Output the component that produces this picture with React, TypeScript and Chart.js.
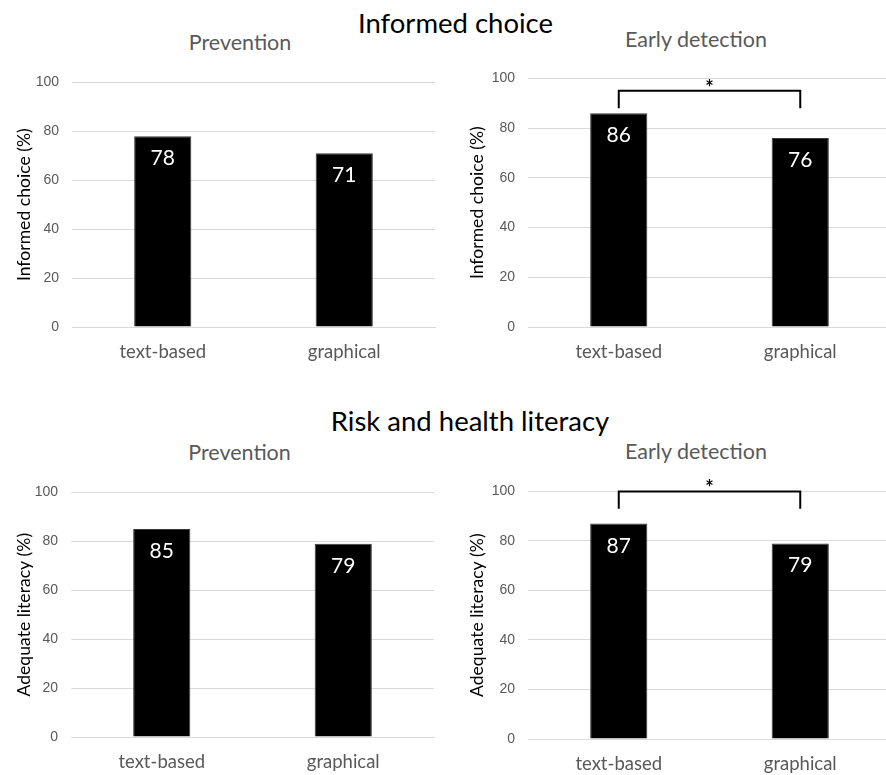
import React, { useEffect, useRef } from 'react';
import { Chart, registerables } from 'chart.js';

Chart.register(...registerables);

// ---- data ----
const categories = ['text-based', 'graphical'];
const preventionInformed = [78, 71];
const earlyInformed = [86, 76];
const preventionLiteracy = [85, 79];
const earlyLiteracy = [87, 79];
const yTickMin = 0;
const yTickMax = 100;
const yTickStep = 20;
// significance bracket: [level of the bar, end of the legs] in %
const earlyInformedBracket = [95, 88];
const earlyLiteracyBracket = [100, 93];
const sectionTitles = ['Informed choice', 'Risk and health literacy'];
const panelTitles = ['Prevention', 'Early detection'];
const yTitles = ['Informed choice (%)', 'Adequate literacy (%)'];

const FONT = 'Lato, "Open Sans", sans-serif';
const TICK_FONT = '"Liberation Sans Narrow", "Liberation Sans", Arial, sans-serif';
const GREY = '#595959';
const GRID = '#d9d9d9';

type PanelProps = {
  values: number[];
  yTitle: string;
  bracket?: number[];
  left: number;
  top: number;
  width: number;
  height: number;
  padLeft: number;
  padRight: number;
  padTop: number;
  yWidth: number;
};

function Panel(p: PanelProps) {
  const ref = useRef<HTMLCanvasElement | null>(null);
  useEffect(() => {
    if (!ref.current) return;
    const valueLabels = {
      id: 'valueLabels',
      afterDatasetsDraw(chart: any) {
        const ctx = chart.ctx;
        const meta = chart.getDatasetMeta(0);
        const data = chart.data.datasets[0].data as number[];
        ctx.save();
        ctx.fillStyle = '#ffffff';
        ctx.font = `21px ${FONT}`;
        ctx.textAlign = 'center';
        ctx.textBaseline = 'alphabetic';
        meta.data.forEach((bar: any, i: number) => {
          ctx.fillText(String(data[i]), bar.x, bar.y + 29);
        });
        ctx.restore();
      },
    };
    const bracketPlugin = {
      id: 'bracket',
      afterDatasetsDraw(chart: any) {
        if (!p.bracket) return;
        const ctx = chart.ctx;
        const meta = chart.getDatasetMeta(0);
        const y = chart.scales.y;
        const yTop = y.getPixelForValue(p.bracket[0]);
        const yBot = y.getPixelForValue(p.bracket[1]);
        const x0 = meta.data[0].x;
        const x1 = meta.data[1].x;
        ctx.save();
        ctx.strokeStyle = '#000';
        ctx.lineWidth = 2;
        ctx.beginPath();
        ctx.moveTo(x0, yBot);
        ctx.lineTo(x0, yTop);
        ctx.lineTo(x1, yTop);
        ctx.lineTo(x1, yBot);
        ctx.stroke();
        ctx.fillStyle = '#000';
        ctx.font = `bold 20px ${FONT}`;
        ctx.textAlign = 'center';
        ctx.textBaseline = 'alphabetic';
        ctx.fillText('*', (x0 + x1) / 2, yTop + 4);
        ctx.restore();
      },
    };
    const chart = new Chart(ref.current, {
      type: 'bar',
      data: {
        labels: categories,
        datasets: [
          {
            data: p.values,
            backgroundColor: '#000000',
            borderColor: '#3a3a3a',
            borderWidth: 1,
            barPercentage: 0.315,
            categoryPercentage: 1,
          },
        ],
      },
      options: {
        responsive: false,
        animation: false,
        layout: { padding: { left: p.padLeft, right: p.padRight, top: p.padTop, bottom: 4 } },
        plugins: { legend: { display: false }, tooltip: { enabled: false }, title: { display: false } },
        scales: {
          x: {
            grid: { display: false, drawTicks: false },
            border: { display: true, color: GRID, width: 1 },
            ticks: { color: GREY, font: { family: FONT, size: 18.5 }, padding: 14 },
            afterFit: (s: any) => {
              s.height = 40;
            },
          },
          y: {
            min: yTickMin,
            max: yTickMax,
            grid: { color: GRID, drawTicks: false, lineWidth: 1 },
            border: { display: false },
            ticks: { stepSize: yTickStep, color: GREY, font: { family: TICK_FONT, size: 14 }, padding: 13 },
            title: {
              display: true,
              text: p.yTitle,
              color: '#000',
              font: { family: FONT, size: 17.6 },
              padding: { top: 4, bottom: 4 },
            },
            afterFit: (s: any) => {
              s.width = p.yWidth;
            },
          },
        },
      },
      plugins: [valueLabels, bracketPlugin],
    } as any);
    if ((document as any).fonts && (document as any).fonts.ready) {
      (document as any).fonts.ready.then(() => {
        try {
          chart.update();
        } catch (e) {}
      });
    }
    return () => chart.destroy();
  }, []);
  return (
    <canvas
      ref={ref}
      width={p.width}
      height={p.height}
      style={{ position: 'absolute', left: p.left, top: p.top, width: p.width, height: p.height }}
    />
  );
}

function Label(props: { text: string; cx: number; cy: number; size: number; color: string }) {
  return (
    <div
      style={{
        position: 'absolute',
        left: props.cx,
        top: props.cy,
        transform: 'translate(-50%, -50%)',
        whiteSpace: 'nowrap',
        fontFamily: FONT,
        fontSize: props.size,
        lineHeight: 1,
        color: props.color,
      }}
    >
      {props.text}
    </div>
  );
}

export default function App() {
  return (
    <div
      style={{
        position: 'absolute',
        left: 0,
        top: 0,
        width: 886,
        height: 775,
        overflow: 'hidden',
        background: '#ffffff',
      }}
    >
      <Panel values={preventionInformed} yTitle={yTitles[0]} left={0} top={61} width={443} height={310} padLeft={10} padRight={8} padTop={16} yWidth={62} />
      <Panel values={earlyInformed} yTitle={yTitles[0]} bracket={earlyInformedBracket} left={443} top={57} width={448} height={314} padLeft={20} padRight={0} padTop={16} yWidth={65} />
      <Panel values={preventionLiteracy} yTitle={yTitles[1]} left={0} top={471} width={443} height={310} padLeft={10} padRight={9} padTop={16} yWidth={61} />
      <Panel values={earlyLiteracy} yTitle={yTitles[1]} bracket={earlyLiteracyBracket} left={443} top={470} width={448} height={313} padLeft={20} padRight={0} padTop={16} yWidth={65} />
      <Label text={sectionTitles[0]} cx={455.5} cy={23} size={27.5} color="#000" />
      <Label text={sectionTitles[1]} cx={470} cy={421} size={27.5} color="#000" />
      <Label text={panelTitles[0]} cx={240} cy={42.5} size={21.5} color={GREY} />
      <Label text={panelTitles[1]} cx={696} cy={40} size={21.5} color={GREY} />
      <Label text={panelTitles[0]} cx={239.5} cy={452.5} size={21.5} color={GREY} />
      <Label text={panelTitles[1]} cx={696} cy={452} size={21.5} color={GREY} />
    </div>
  );
}
